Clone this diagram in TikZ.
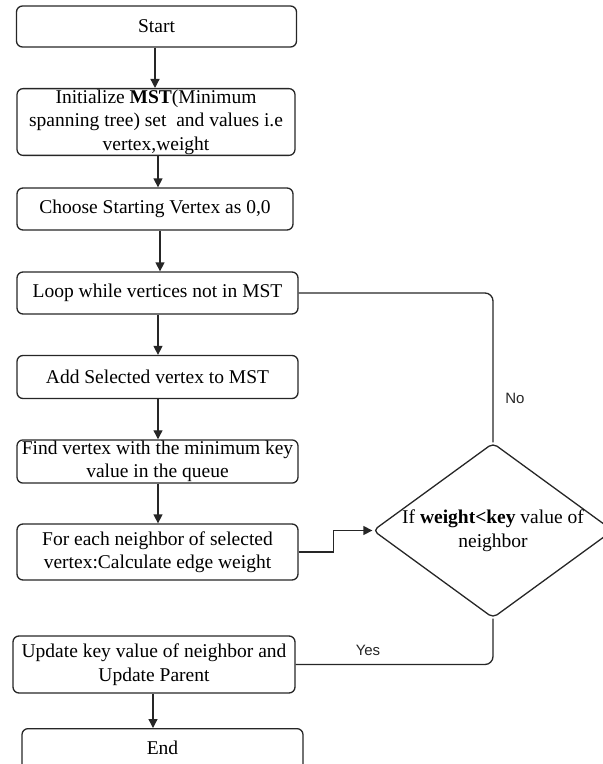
\documentclass[tikz,border=0pt]{standalone}
\usepackage{fontspec}
\setmainfont{Liberation Serif}
\newfontfamily\labelfont{Liberation Sans}
\usetikzlibrary{shapes.geometric,arrows.meta}
\definecolor{ink}{HTML}{262626}
\tikzset{
  x=1pt, y=1pt,
  procbox/.style={draw=ink, line width=1.3pt, rounded corners=6pt, align=center,
    inner sep=1pt, font=\fontsize{19.5}{23.5}\selectfont},
  decision/.style={diamond, draw=ink, line width=1.3pt, rounded corners=5pt,
    align=center, inner sep=0pt, font=\fontsize{19.5}{23.5}\selectfont},
  flow/.style={draw=ink, line width=1.3pt, -{Triangle[length=9pt,width=9pt]}},
  branch/.style={draw=ink, line width=1.3pt, rounded corners=8pt},
  edgelabel/.style={font=\labelfont\fontsize{15}{18}\selectfont, text=ink}
}
\begin{document}
\begin{tikzpicture}
\useasboundingbox (0,0) rectangle (603,-764);
\begin{scope}
\clip (0,0) rectangle (603,-764);
\node[procbox, minimum width=280pt, minimum height=41pt] (start) at (156.5,-26.5) {Start};
\node[procbox, minimum width=278pt, minimum height=62pt] (init) at (156,-122)
  {Initialize \textbf{MST}(Minimum\\spanning tree) set\ \ and values i.e\\vertex,weight};
\node[procbox, minimum width=276pt, minimum height=42pt] (choose) at (155,-209) {Choose Starting Vertex as 0,0};
\node[procbox, minimum width=281pt, minimum height=42pt] (loop) at (157.5,-293) {Loop while vertices not in MST};
\node[procbox, minimum width=281pt, minimum height=43pt] (add) at (157.5,-377) {Add Selected vertex to MST};
\node[procbox, minimum width=281pt, minimum height=43pt] (find) at (157.5,-461.5)
  {Find vertex with the minimum key\\value in the queue};
\node[procbox, minimum width=281pt, minimum height=56pt] (foreach) at (157.5,-552)
  {For each neighbor of selected\\vertex:Calculate edge weight};
\node[procbox, minimum width=282pt, minimum height=57pt] (update) at (154,-664.5)
  {Update key value of neighbor and\\Update Parent};
\node[procbox, minimum width=281pt, minimum height=44pt, anchor=north] (finish) at (162.5,-728)
  {\raisebox{6pt}{End}};
\node[decision, minimum width=240pt, minimum height=175pt, aspect=1.37] (cond) at (493,-530.5)
  {If \textbf{weight<key} value of\\neighbor};

% main sequence
\draw[flow] (start.south -| 155,0) -- (init.north -| 155,0);
\draw[flow] (init.south -| 158,0) -- (choose.north -| 158,0);
\draw[flow] (choose.south -| 160,0) -- (loop.north -| 160,0);
\draw[flow] (loop.south -| 158,0) -- (add.north -| 158,0);
\draw[flow] (add.south -| 158,0) -- (find.north -| 158,0);
\draw[flow] (find.south -| 158,0) -- (foreach.north -| 158,0);
\draw[flow] (update.south -| 153,0) -- (finish.north -| 153,0);

% decision and its branches
\draw[flow] (foreach.east) -- ++(35,0) |- (cond.west);
\draw[branch] (cond.north) |- (loop.east);
\draw[branch] (cond.south) |- (update.east);
\node[edgelabel] (nolabel) at (515,-398) {No};
\node[edgelabel] (yeslabel) at (368,-650) {Yes};
\end{scope}
\end{tikzpicture}
\end{document}
